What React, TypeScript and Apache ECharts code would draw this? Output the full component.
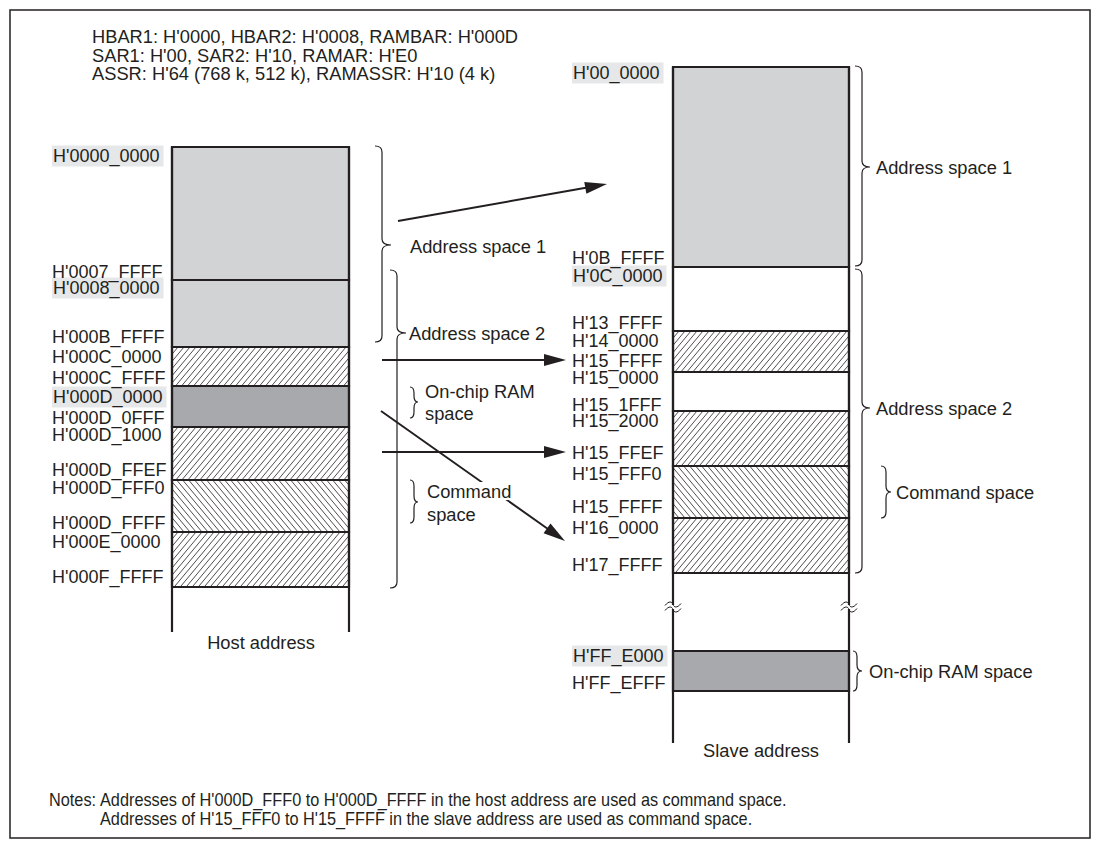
import React, { useEffect, useRef } from "react";
import * as echarts from "echarts";

// ---------- data ----------
const infoLines = [
  "HBAR1: H'0000, HBAR2: H'0008, RAMBAR: H'000D",
  "SAR1: H'00, SAR2: H'10, RAMAR: H'E0",
  "ASSR: H'64 (768 k, 512 k), RAMASSR: H'10 (4 k)",
];
const infoY = [36, 55, 73];

const hostColumn = { left: 172, right: 349, top: 147, bottom: 632 };
const slaveColumn = { left: 673, right: 849, top: 67, bottom: 743 };

// block kinds: light, dark, white, fwd (/ hatch), back (\ hatch)
const hostBlocks = [
  { top: 147, bottom: 280, kind: "light" },
  { top: 280, bottom: 347, kind: "light" },
  { top: 347, bottom: 386, kind: "fwd" },
  { top: 386, bottom: 427, kind: "dark" },
  { top: 427, bottom: 480, kind: "fwd" },
  { top: 480, bottom: 532, kind: "back" },
  { top: 532, bottom: 587, kind: "fwd" },
];
const slaveBlocks = [
  { top: 67, bottom: 267, kind: "light" },
  { top: 267, bottom: 331, kind: "white" },
  { top: 331, bottom: 372, kind: "fwd" },
  { top: 372, bottom: 411, kind: "white" },
  { top: 411, bottom: 466, kind: "fwd" },
  { top: 466, bottom: 518, kind: "back" },
  { top: 518, bottom: 573, kind: "fwd" },
  { top: 651, bottom: 691, kind: "dark" },
];

const hostLabels: [string, number, boolean][] = [
  ["H'0000_0000", 156, true],
  ["H'0007_FFFF", 272, false],
  ["H'0008_0000", 288, true],
  ["H'000B_FFFF", 337, false],
  ["H'000C_0000", 357, false],
  ["H'000C_FFFF", 378, false],
  ["H'000D_0000", 397, true],
  ["H'000D_0FFF", 418, false],
  ["H'000D_1000", 435, false],
  ["H'000D_FFEF", 470, false],
  ["H'000D_FFF0", 488, false],
  ["H'000D_FFFF", 523, false],
  ["H'000E_0000", 542, false],
  ["H'000F_FFFF", 577, false],
];
const slaveLabels: [string, number, boolean][] = [
  ["H'00_0000", 73, true],
  ["H'0B_FFFF", 258, false],
  ["H'0C_0000", 276, true],
  ["H'13_FFFF", 323, false],
  ["H'14_0000", 341, false],
  ["H'15_FFFF", 361, false],
  ["H'15_0000", 378, false],
  ["H'15_1FFF", 405, false],
  ["H'15_2000", 421, false],
  ["H'15_FFEF", 453, false],
  ["H'15_FFF0", 474, false],
  ["H'15_FFFF", 507, false],
  ["H'16_0000", 528, false],
  ["H'17_FFFF", 565, false],
  ["H'FF_E000", 656, true],
  ["H'FF_EFFF", 683, false],
];

// braces: hook x, spine x, tip x, top, tip y, bottom
const braces = [
  [375, 382, 391, 146, 245, 342],
  [390, 397, 406, 270, 333, 588],
  [410, 414, 418, 387, 402, 418],
  [410, 414, 418, 480, 502, 523],
  [855, 862, 870, 66, 167, 266],
  [855, 862, 870, 269, 408, 573],
  [881, 886, 891, 466, 492, 518],
  [853, 857, 862, 651, 671, 691],
];
const braceLabels: [string, number, number][] = [
  ["Address space 1", 410, 246],
  ["Address space 2", 409, 333],
  ["On-chip RAM", 425, 391],
  ["space", 425, 413],
  ["Address space 1", 876, 167],
  ["Address space 2", 876, 408],
  ["Command space", 896, 492],
  ["On-chip RAM space", 869, 671],
];
const commandLabels: [string, number, number][] = [
  ["Command", 427, 491],
  ["space", 427, 514],
];

// arrows: from x, from y, to x, to y
const arrows = [
  [398, 221, 607, 184],
  [382, 360, 566, 360],
  [382, 452, 566, 452],
  [381, 411, 565, 541],
];

const columnTitles: [string, number, number][] = [
  ["Host address", 261, 642],
  ["Slave address", 761, 750],
];
const breakY = 607;

const notesLines: [string, number, number][] = [
  ["Notes:", 49, 800],
  ["Addresses of H'000D_FFF0 to H'000D_FFFF in the host address are used as command space.", 100, 800],
  ["Addresses of H'15_FFF0 to H'15_FFFF in the slave address are used as command space.", 100, 819],
];

// ---------- style ----------
const INK = "#231f20";
const LIGHT = "#d1d3d4";
const DARK = "#a7a9ac";
const HL = "#e6e7e8";
const FONT = "'Liberation Sans', Arial, Helvetica, sans-serif";
const FS = 18.3;
const FS_ADDR = 18;

function hatchLines(x0: number, y0: number, x1: number, y1: number, dir: string) {
  const s = 6;
  const k = 1.2;
  const h = (y1 - y0) / k;
  const out: any[] = [];
  for (let bx = x0 - h - s; bx < x1 + s; bx += s) {
    const tmin = Math.max(x0 - bx, 0);
    const tmax = Math.min(x1 - bx, h);
    if (tmax <= tmin) continue;
    let ya, yb;
    if (dir === "fwd") {
      ya = y1 - k * tmin;
      yb = y1 - k * tmax;
    } else {
      ya = y0 + k * tmin;
      yb = y0 + k * tmax;
    }
    out.push({
      type: "line",
      shape: { x1: bx + tmin, y1: ya, x2: bx + tmax, y2: yb },
      style: { stroke: INK, lineWidth: 0.8 },
    });
  }
  return out;
}

function textEl(x: number, y: number, text: string, extra: any = {}, scaleX = 1) {
  return {
    type: "text",
    x,
    y,
    scaleX,
    style: {
      text,
      x: 0,
      y: 0,
      fill: INK,
      fontSize: FS,
      fontFamily: FONT,
      align: "left",
      verticalAlign: "middle",
      ...extra,
    },
  };
}

export default function App() {
  const ref = useRef<HTMLDivElement>(null);
  useEffect(() => {
    if (!ref.current) return;
    const chart = echarts.init(ref.current, undefined, { renderer: "svg" });

    const allBlocks = [
      ...hostBlocks.map((b) => ({ ...b, col: hostColumn })),
      ...slaveBlocks.map((b) => ({ ...b, col: slaveColumn })),
    ];
    const columns = [hostColumn, slaveColumn];

    const idx = (arr: any[]) => arr.map((_, i) => [i, i]);

    const option: any = {
      animation: false,
      backgroundColor: "#ffffff",
      grid: { left: 0, right: 0, top: 0, bottom: 0, containLabel: false },
      xAxis: { type: "value", min: 0, max: 1100, show: false },
      yAxis: { type: "value", min: 0, max: 848, inverse: true, show: false },
      series: [
        {
          type: "custom",
          name: "frame",
          silent: true,
          clip: false,
          data: [[0, 0]],
          renderItem: (_p: any, api: any) => {
            const a = api.coord([10, 10]);
            const b = api.coord([1090, 838]);
            return {
              type: "rect",
              shape: { x: a[0], y: a[1], width: b[0] - a[0], height: b[1] - a[1] },
              style: { fill: "none", stroke: INK, lineWidth: 1.5 },
            };
          },
        },
        {
          type: "custom",
          name: "blocks",
          silent: true,
          clip: false,
          data: idx(allBlocks),
          renderItem: (params: any, api: any) => {
            const b = allBlocks[params.dataIndex];
            const p0 = api.coord([b.col.left, b.top]);
            const p1 = api.coord([b.col.right, b.bottom]);
            const [x0, y0] = p0;
            const [x1, y1] = p1;
            const fill =
              b.kind === "light" ? LIGHT : b.kind === "dark" ? DARK : "#ffffff";
            const children: any[] = [
              { type: "rect", shape: { x: x0, y: y0, width: x1 - x0, height: y1 - y0 }, style: { fill } },
            ];
            if (b.kind === "fwd" || b.kind === "back") {
              children.push(...hatchLines(x0, y0, x1, y1, b.kind));
            }
            children.push({
              type: "rect",
              shape: { x: x0, y: y0, width: x1 - x0, height: y1 - y0 },
              style: { fill: "none", stroke: INK, lineWidth: 2.2 },
            });
            return { type: "group", children };
          },
        },
        {
          type: "custom",
          name: "columns",
          silent: true,
          clip: false,
          data: idx(columns),
          renderItem: (params: any, api: any) => {
            const c = columns[params.dataIndex];
            const a = api.coord([c.left, c.top]);
            const b = api.coord([c.right, c.bottom]);
            const children: any[] = [
              { type: "line", shape: { x1: a[0], y1: a[1], x2: a[0], y2: b[1] }, style: { stroke: INK, lineWidth: 2.2 } },
              { type: "line", shape: { x1: b[0], y1: a[1], x2: b[0], y2: b[1] }, style: { stroke: INK, lineWidth: 2.2 } },
            ];
            if (params.dataIndex === 1) {
              const yb = api.coord([0, breakY])[1];
              [a[0], b[0]].forEach((x) => {
                children.push({
                  type: "rect",
                  shape: { x: x - 2, y: yb - 2, width: 4, height: 4 },
                  style: { fill: "#ffffff" },
                });
                [-2.5, 2.5].forEach((dy) => {
                  const y = yb + dy;
                  children.push({
                    type: "path",
                    shape: {
                      pathData: `M${x - 8} ${y + 1} C${x - 4} ${y - 4} ${x - 1} ${y - 3} ${x} ${y} C${x + 1} ${y + 3} ${x + 4} ${y + 4} ${x + 8} ${y - 1}`,
                    },
                    style: { fill: "none", stroke: INK, lineWidth: 1 },
                  });
                });
              });
            }
            return { type: "group", children };
          },
        },
        {
          type: "custom",
          name: "braces",
          silent: true,
          clip: false,
          data: idx(braces),
          renderItem: (params: any, api: any) => {
            const [xh, xs, xt, y0, ym, y1] = braces[params.dataIndex];
            const P = (x: number, y: number) => api.coord([x, y]);
            const h = P(xh, y0);
            const s0 = P(xs, y0);
            const t = P(xt, ym);
            const s1 = P(xs, y1);
            const hb = P(xh, y1);
            const sx = s0[0];
            const r = Math.min(6, (t[1] - s0[1]) / 2, (s1[1] - t[1]) / 2);
            const d = `M${h[0]} ${h[1]} Q${sx} ${h[1]} ${sx} ${h[1] + r} L${sx} ${t[1] - r} Q${sx} ${t[1]} ${t[0]} ${t[1]} Q${sx} ${t[1]} ${sx} ${t[1] + r} L${sx} ${s1[1] - r} Q${sx} ${s1[1]} ${hb[0]} ${hb[1]}`;
            return {
              type: "path",
              shape: { pathData: d },
              style: { fill: "none", stroke: INK, lineWidth: 1.2 },
            };
          },
        },
        {
          type: "custom",
          name: "arrows",
          silent: true,
          clip: false,
          data: idx(arrows),
          renderItem: (params: any, api: any) => {
            const [fx, fy, tx, ty] = arrows[params.dataIndex];
            const a = api.coord([fx, fy]);
            const b = api.coord([tx, ty]);
            const dx = b[0] - a[0];
            const dy = b[1] - a[1];
            const len = Math.hypot(dx, dy);
            const ux = dx / len;
            const uy = dy / len;
            const L = 22;
            const W = 6;
            const bx = b[0] - ux * L;
            const by = b[1] - uy * L;
            return {
              type: "group",
              children: [
                {
                  type: "line",
                  shape: { x1: a[0], y1: a[1], x2: bx + ux * 2, y2: by + uy * 2 },
                  style: { stroke: INK, lineWidth: 2 },
                },
                {
                  type: "polygon",
                  shape: {
                    points: [
                      [b[0], b[1]],
                      [bx - uy * W, by + ux * W],
                      [bx + uy * W, by - ux * W],
                    ],
                  },
                  style: { fill: INK },
                },
              ],
            };
          },
        },
        {
          type: "custom",
          name: "texts",
          silent: true,
          clip: false,
          data: [[0, 0]],
          renderItem: (_p: any, api: any) => {
            const P = (x: number, y: number) => api.coord([x, y]);
            const children: any[] = [];
            infoLines.forEach((t, i) => {
              const p = P(92, infoY[i]);
              children.push(textEl(p[0], p[1], t));
            });
            // highlighted address labels first, so neighbouring plain labels stay visible
            const addr = [
              ...hostLabels.map((l) => [52, ...l] as [number, string, number, boolean]),
              ...slaveLabels.map((l) => [572, ...l] as [number, string, number, boolean]),
            ];
            addr
              .filter((l) => l[3])
              .forEach(([x, t, y]) => {
                const p = P(x, y);
                children.push(
                  textEl(p[0], p[1], t, {
                    fontSize: FS_ADDR,
                    backgroundColor: HL,
                    padding: [2, 4, 1, 1],
                  })
                );
              });
            addr
              .filter((l) => !l[3])
              .forEach(([x, t, y]) => {
                const p = P(x, y);
                children.push(textEl(p[0], p[1], t, { fontSize: FS_ADDR }));
              });
            braceLabels.forEach(([t, x, y]) => {
              const p = P(x, y);
              children.push(textEl(p[0], p[1], t));
            });
            commandLabels.forEach(([t, x, y]) => {
              const p = P(x, y);
              children.push(
                textEl(p[0], p[1], t, { backgroundColor: "#ffffff", padding: [0, 2, 0, 0] })
              );
            });
            columnTitles.forEach(([t, x, y]) => {
              const p = P(x, y);
              children.push(textEl(p[0], p[1], t, { align: "center" }));
            });
            notesLines.forEach(([t, x, y]) => {
              const p = P(x, y);
              children.push(textEl(p[0], p[1], t, {}, 0.89));
            });
            return { type: "group", children };
          },
        },
      ],
    };
    chart.setOption(option);
    return () => chart.dispose();
  }, []);

  return (
    <div
      ref={ref}
      style={{ position: "absolute", left: 0, top: 0, width: 1100, height: 848, background: "#fff" }}
    />
  );
}
